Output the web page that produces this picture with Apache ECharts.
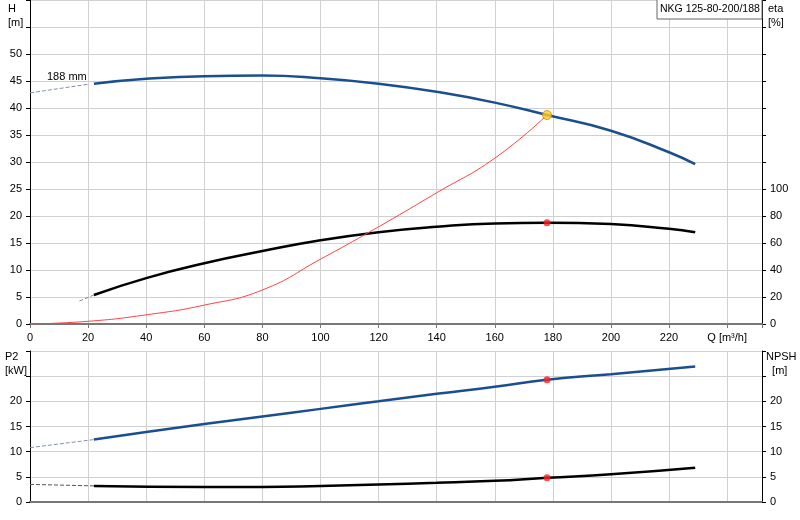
<!DOCTYPE html><html><head><meta charset="utf-8"><script src="https://cdn.jsdelivr.net/npm/echarts@6/dist/echarts.min.js"></script>
<style>html,body{margin:0;background:#fff}#c{width:800px;height:520px}</style></head><body><div id="c"></div><script>
const hQ=[22,40,60,80,100,120,140,160,178,200,220,229];
const hVal=[44.5,45.4,45.9,46.0,45.5,44.5,43.0,41.0,38.7,35.8,31.8,29.6];
const hDashQ=[0,20],hDash=[42.8,44.4];
const etaQ=[22,40,60,80,100,120,140,160,178,200,220,229];
const etaVal=[21.5,34,45,54,62,68,72,74.5,75,74,70.5,68];
const etaDashQ=[17,22],etaDash=[17,21.5];
const sysQ=[0,20,40,60,80,100,120,140,160,178];
const sysVal=[0,0.5,1.7,3.5,6.3,12.0,18.0,24.3,30.7,38.7];
const p2Q=[22,40,60,80,100,120,140,160,178,200,229];
const p2Val=[12.4,13.9,15.5,17,18.5,20,21.5,22.9,24.3,25.4,26.9];
const p2DashQ=[0,22],p2Dash=[10.8,12.4];
const npQ=[22,60,80,100,120,140,160,178,200,229];
const npVal=[3.2,3.0,3.0,3.2,3.5,3.8,4.2,4.8,5.5,6.8];
const npDashQ=[0,22],npDash=[3.5,3.2];
const duty={q:178,h:38.7,eta:75,p2:24.3,np:4.8};
const z=(a,b)=>a.map((x,i)=>[x,b[i]]);
const F='Liberation Sans, Arial, sans-serif';
const ax={color:'#000',fontSize:11,fontFamily:F};
const gl={show:true,lineStyle:{color:'#d0d0d0',width:1}};
function xa(g,show){return{type:'value',gridIndex:g,min:0,max:252,interval:20,
 axisLine:{show:true,onZero:false,lineStyle:{color:'#777',width:2}},axisTick:{show:show,length:4,lineStyle:{color:'#777'}},
 axisLabel:{show:show,...ax,formatter:v=>v===240?'Q [m³/h]':(v>240?'':v)},splitLine:gl};}
function ya(g,max,lab,pos,show){return{type:'value',gridIndex:g,min:0,max:max,interval:5,position:pos,
 axisLine:{show:true,lineStyle:{color:'#000'}},axisTick:{show:true,length:4,inside:false,lineStyle:{color:'#000'}},
 axisLabel:{show:show,...ax,formatter:v=>v<=lab?v:''},splitLine:{show:show!==false&&pos==='left',lineStyle:{color:'#d0d0d0'}}};}
const c=echarts.init(document.getElementById('c'));
c.setOption({animation:false,
grid:[{left:30,right:38,top:0,height:324},{left:30,right:38,top:351,height:151}],
xAxis:[xa(0,true),xa(1,false)],
yAxis:[ya(0,60,50,'left',true),
 {type:'value',gridIndex:0,min:0,max:240,interval:20,position:'right',axisLine:{show:true,lineStyle:{color:'#000'}},
  axisTick:{show:true,length:4,lineStyle:{color:'#000'}},axisLabel:{...ax,formatter:v=>v<=100?v:''},splitLine:{show:false}},
 ya(1,30,20,'left',true),ya(1,30,20,'right',true)],
series:[
 {type:'line',xAxisIndex:0,yAxisIndex:0,data:z(hQ,hVal),smooth:true,symbol:'none',lineStyle:{color:'#1a4f8f',width:2.5}},
 {type:'line',xAxisIndex:0,yAxisIndex:0,data:z(hDashQ,hDash),symbol:'none',lineStyle:{color:'#8090b0',width:1,type:'dashed'}},
 {type:'line',xAxisIndex:0,yAxisIndex:1,data:z(etaQ,etaVal),smooth:true,symbol:'none',lineStyle:{color:'#000',width:2.5}},
 {type:'line',xAxisIndex:0,yAxisIndex:1,data:z(etaDashQ,etaDash),symbol:'none',lineStyle:{color:'#888',width:1,type:'dashed'}},
 {type:'line',xAxisIndex:0,yAxisIndex:0,data:z(sysQ,sysVal),smooth:true,symbol:'none',lineStyle:{color:'#ff4040',width:1}},
 {type:'scatter',z:10,xAxisIndex:0,yAxisIndex:0,data:[[duty.q,duty.h]],symbolSize:9,itemStyle:{color:'#ffd020',borderColor:'#e08000',borderWidth:1}},
 {type:'scatter',z:10,xAxisIndex:0,yAxisIndex:1,data:[[duty.q,duty.eta]],symbolSize:7,itemStyle:{color:'#ff2020'}},
 {type:'line',xAxisIndex:1,yAxisIndex:2,data:z(p2Q,p2Val),smooth:true,symbol:'none',lineStyle:{color:'#1a4f8f',width:2.5}},
 {type:'line',xAxisIndex:1,yAxisIndex:2,data:z(p2DashQ,p2Dash),symbol:'none',lineStyle:{color:'#8090b0',width:1,type:'dashed'}},
 {type:'line',xAxisIndex:1,yAxisIndex:3,data:z(npQ,npVal),smooth:true,symbol:'none',lineStyle:{color:'#000',width:2.5}},
 {type:'line',xAxisIndex:1,yAxisIndex:3,data:z(npDashQ,npDash),symbol:'none',lineStyle:{color:'#555',width:1,type:'dashed'}},
 {type:'scatter',z:10,xAxisIndex:1,yAxisIndex:2,data:[[duty.q,duty.p2]],symbolSize:7,itemStyle:{color:'#ff2020'}},
 {type:'scatter',z:10,xAxisIndex:1,yAxisIndex:3,data:[[duty.q,duty.np]],symbolSize:7,itemStyle:{color:'#ff2020'}}
],
graphic:[
 {type:'text',left:8,top:2,style:{text:'H\n[m]',font:'11px '+F,fill:'#000',lineHeight:14}},
 {type:'text',left:768,top:2,style:{text:'eta\n[%]',font:'11px '+F,fill:'#000',lineHeight:14}},
 {type:'text',left:5,top:350,style:{text:'P2\n[kW]',font:'11px '+F,fill:'#000',lineHeight:14}},
 {type:'text',left:766,top:350,style:{text:'NPSH\n  [m]',font:'11px '+F,fill:'#000',lineHeight:14}},
 {type:'text',left:47,top:71,style:{text:'188 mm',font:'11px '+F,fill:'#000'}},
 {type:'rect',z:20,shape:{x:657,y:-1,width:105,height:20},style:{fill:'#fff',stroke:'#666',lineWidth:1}},
 {type:'text',z:21,left:660,top:4,style:{text:'NKG 125-80-200/188',font:'10.5px '+F,fill:'#000'}}
]});
</script></body></html>
